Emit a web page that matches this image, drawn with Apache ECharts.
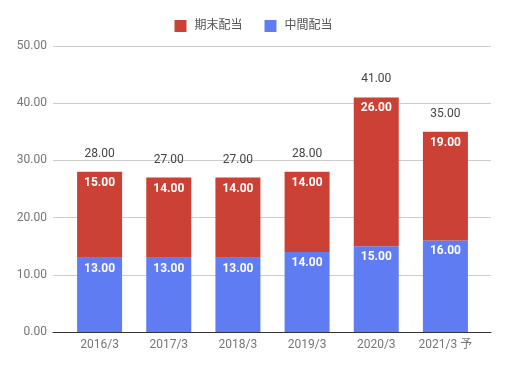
<!DOCTYPE html>
<html>
<head>
<meta charset="utf-8">
<script src="https://cdn.jsdelivr.net/npm/echarts@6/dist/echarts.min.js"></script>
<style>html,body{margin:0;padding:0;background:#fff}#c{width:507px;height:368px}</style>
</head>
<body>
<div id="c"></div>
<script>
const categories = ['2016/3', '2017/3', '2018/3', '2019/3', '2020/3', '2021/3 予'];
const interim = [13, 13, 13, 14, 15, 16];      // 中間配当
const yearEnd = [15, 14, 14, 14, 26, 19];      // 期末配当
const yTicks = [0, 10, 20, 30, 40, 50];

const totals = categories.map((c, i) => interim[i] + yearEnd[i]);
const font = 'Roboto, "Noto Sans CJK JP", sans-serif';

const chart = echarts.init(document.getElementById('c'), null, {renderer: 'canvas'});
chart.setOption({
  animation: false,
  textStyle: {fontFamily: font},
  legend: {
    top: 15, left: 'center',
    itemWidth: 12, itemHeight: 12, itemGap: 22,
    icon: 'rect',
    textStyle: {fontSize: 12, color: '#555', fontFamily: font, padding: [0, 0, 0, 3]},
    data: ['期末配当', '中間配当']
  },
  grid: [
    {left: 53, right: 16, top: 46, bottom: 36},
    {left: 65, right: 27, top: 46, bottom: 36}
  ],
  xAxis: [
    {gridIndex: 0, type: 'value', min: 0, max: 1,
     axisLine: {show: true, lineStyle: {color: '#333', width: 1}},
     axisTick: {show: false}, axisLabel: {show: false}, splitLine: {show: false}},
    {gridIndex: 1, type: 'category', data: categories,
     axisLine: {show: false}, axisTick: {show: false},
     axisLabel: {interval: 0, fontSize: 12, color: '#757575', margin: 7, fontFamily: font}}
  ],
  yAxis: [
    {gridIndex: 0, type: 'value', min: yTicks[0], max: yTicks[yTicks.length - 1], interval: 10,
     axisLine: {show: false}, axisTick: {show: false},
     axisLabel: {fontSize: 12, color: '#757575', margin: 6, formatter: v => v.toFixed(2), fontFamily: font},
     splitLine: {lineStyle: {color: '#ccc', width: 1}}},
    {gridIndex: 1, type: 'value', min: 0, max: 50, show: false, splitLine: {show: false}}
  ],
  series: [
    {name: '中間配当', type: 'bar', stack: 's', xAxisIndex: 1, yAxisIndex: 1,
     barWidth: 45, data: interim, itemStyle: {color: '#5f7cf2'},
     label: {show: true, position: 'insideTop', distance: 5, color: '#fff', fontSize: 12, fontWeight: 'bold',
             formatter: p => p.value.toFixed(2)}},
    {name: '期末配当', type: 'bar', stack: 's', xAxisIndex: 1, yAxisIndex: 1,
     barWidth: 45, data: yearEnd, itemStyle: {color: '#cc4136'},
     label: {show: true, position: 'insideTop', distance: 5, color: '#fff', fontSize: 12, fontWeight: 'bold',
             formatter: p => p.value.toFixed(2)}},
    {name: 'total', type: 'bar', stack: 's', xAxisIndex: 1, yAxisIndex: 1,
     barWidth: 45, data: totals.map(() => 0), itemStyle: {color: 'transparent'},
     label: {show: true, position: 'top', distance: 12, color: '#444', fontSize: 12,
             formatter: p => totals[p.dataIndex].toFixed(2)}}
  ]
});
</script>
</body>
</html>
